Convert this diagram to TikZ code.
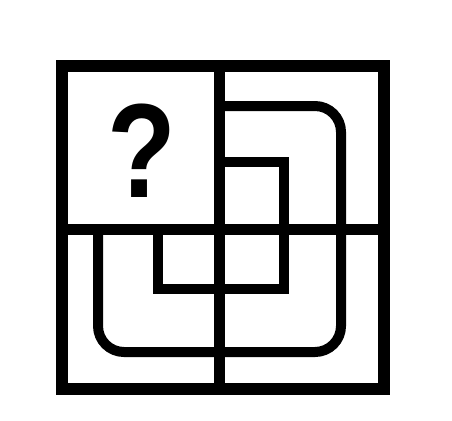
\documentclass[tikz,border=0pt]{standalone}
\usepackage{fontspec}
\newfontfamily\qfont[FakeStretch=0.84]{Liberation Sans}
\begin{document}
\begin{tikzpicture}[x=1pt,y=-1pt,frame/.style={line width=12pt},grid/.style={line width=11pt},track/.style={line width=10pt}]
\useasboundingbox(0,0)rectangle(452,420);
\draw[frame](62,66)rectangle(384,389);
\draw[grid](219,66)--(219,389)(62,229)--(384,229);
\draw[track,rounded corners=26pt](219,106)--(341,106)--(341,352)--(98,352)--(98,229);
\draw[track](219,162)--(284,162)--(284,289)--(158,289)--(158,229);
\node(q)at(142,150.5){\qfont\bfseries\fontsize{134}{134}\selectfont ?};
\end{tikzpicture}
\end{document}
